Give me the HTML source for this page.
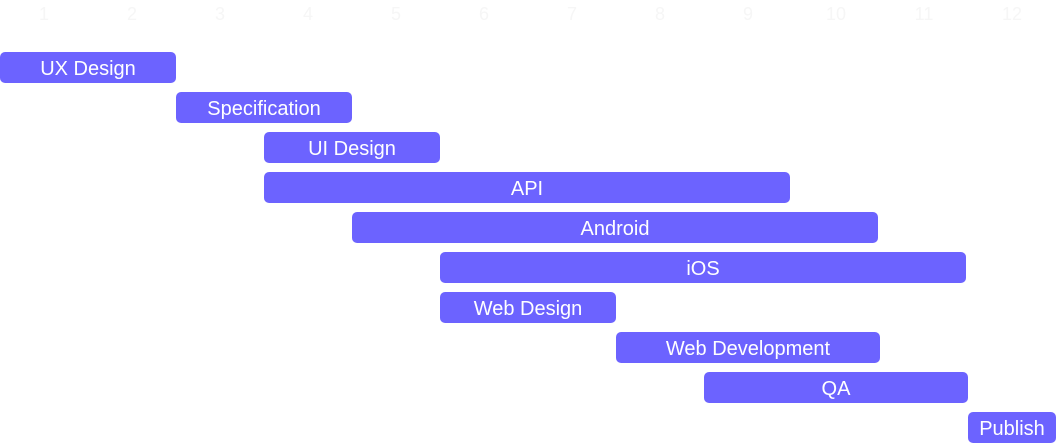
<!DOCTYPE html>
<html><head><style>
body{margin:0;width:1056px;height:443px;background:#fff;position:relative;overflow:hidden;font-family:"Liberation Sans",sans-serif;}
.n{position:absolute;top:4px;width:88px;text-align:center;color:#f6f6f6;font-size:18px;}
.b{position:absolute;height:31px;background:#6c63ff;border-radius:5px;color:#fff;font-size:20px;line-height:34px;text-align:center;}
</style></head><body>
<div class="n" style="left:0">1</div><div class="n" style="left:88px">2</div><div class="n" style="left:176px">3</div><div class="n" style="left:264px">4</div><div class="n" style="left:352px">5</div><div class="n" style="left:440px">6</div><div class="n" style="left:528px">7</div><div class="n" style="left:616px">8</div><div class="n" style="left:704px">9</div><div class="n" style="left:792px">10</div><div class="n" style="left:880px">11</div><div class="n" style="left:968px">12</div>
<div class="b" style="left:0;top:52px;width:176px">UX Design</div>
<div class="b" style="left:176px;top:92px;width:176px">Specification</div>
<div class="b" style="left:264px;top:132px;width:176px">UI Design</div>
<div class="b" style="left:264px;top:172px;width:526px">API</div>
<div class="b" style="left:352px;top:212px;width:526px">Android</div>
<div class="b" style="left:440px;top:252px;width:526px">iOS</div>
<div class="b" style="left:440px;top:292px;width:176px">Web Design</div>
<div class="b" style="left:616px;top:332px;width:264px">Web Development</div>
<div class="b" style="left:704px;top:372px;width:264px">QA</div>
<div class="b" style="left:968px;top:412px;width:88px">Publish</div>
</body></html>
